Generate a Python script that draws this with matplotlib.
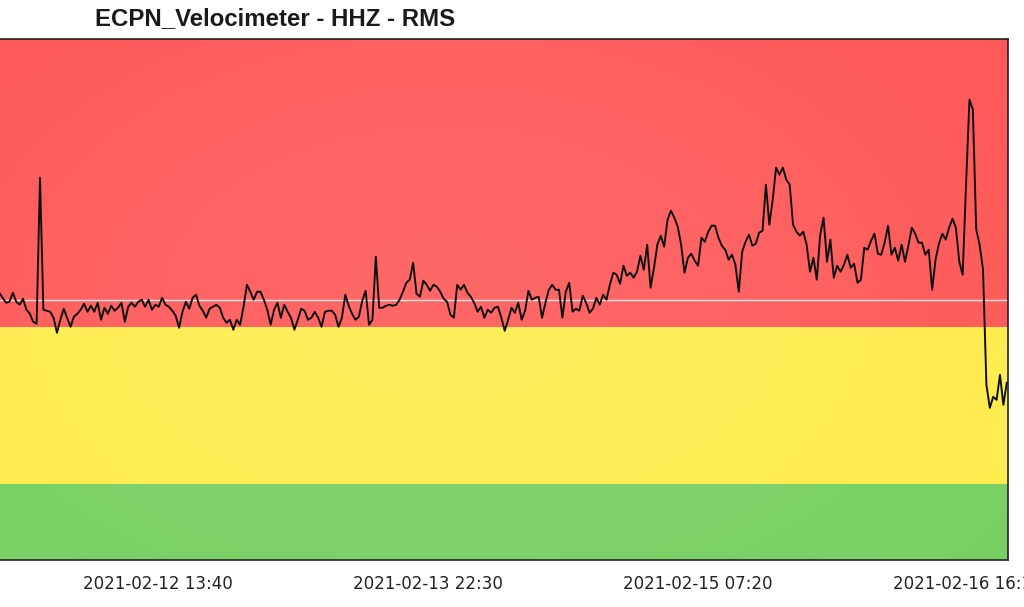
import matplotlib
matplotlib.use("Agg")
import matplotlib.pyplot as plt
import matplotlib.dates as mdates
import numpy as np
import pandas as pd

title = "ECPN_Velocimeter - HHZ - RMS"
start = "2021-02-11 18:22:05"
step = "1485s"
values = [
    267, 262, 257, 258, 267, 258, 255, 261, 250, 246, 238, 236, 382, 250, 249, 248, 242, 227, 240, 251,
    242, 233, 243, 246, 250, 256, 248, 254, 248, 257, 240, 252, 246, 254, 249, 252, 257, 238, 253, 257,
    253, 258, 260, 253, 260, 250, 255, 253, 262, 255, 253, 249, 244, 232, 248, 258, 251, 262, 265, 254,
    249, 242, 251, 253, 255, 252, 242, 237, 240, 230, 240, 235, 253, 275, 268, 260, 268, 268, 260, 250,
    235, 250, 257, 242, 255, 248, 242, 230, 240, 251, 249, 240, 242, 248, 242, 233, 248, 249, 249, 245,
    233, 242, 265, 254, 246, 240, 243, 259, 269, 235, 240, 303, 252, 252, 254, 255, 254, 255, 260, 268,
    277, 280, 297, 266, 263, 279, 275, 269, 275, 273, 268, 261, 258, 245, 242, 275, 270, 275, 267, 263,
    257, 248, 253, 242, 250, 247, 252, 253, 242, 229, 240, 252, 247, 257, 240, 249, 269, 260, 262, 263,
    242, 257, 270, 275, 270, 270, 242, 268, 277, 248, 251, 249, 264, 257, 247, 251, 262, 255, 265, 260,
    275, 287, 285, 276, 294, 284, 287, 282, 288, 304, 290, 315, 272, 292, 315, 324, 313, 340, 349, 342,
    333, 315, 287, 302, 306, 299, 294, 322, 318, 328, 334, 334, 322, 314, 310, 300, 305, 295, 268, 308,
    318, 325, 314, 316, 327, 329, 375, 335, 360, 392, 385, 392, 380, 375, 335, 328, 324, 328, 315, 288,
    302, 280, 325, 342, 298, 320, 282, 294, 288, 295, 305, 292, 296, 277, 280, 312, 310, 319, 326, 306,
    305, 317, 334, 305, 312, 299, 315, 298, 314, 332, 326, 317, 317, 305, 310, 270, 300, 316, 326, 320,
    332, 341, 332, 298, 285, 375, 460, 450, 330, 315, 290, 175, 152, 163, 160, 185, 155, 177,
]
green_band = (0, 76)
yellow_band = (76, 233)
red_band = (233, 521)
reference_level = 260
tick_times = ["2021-02-12 13:40", "2021-02-13 22:30", "2021-02-15 07:20", "2021-02-16 16:10"]
x_range = ("2021-02-11 17:14:18", "2021-02-16 20:58:12")
y_range = (0, 521)

times = pd.date_range(start, periods=len(values), freq=step)

fig = plt.figure(figsize=(10.24, 6.07), dpi=100)
ax = fig.add_axes([-10 / 1024, 1 - 560 / 607, 1017.5 / 1024, 521.5 / 607])

ax.axhspan(*green_band, color="#70cd58", zorder=0, lw=0)
ax.axhspan(*yellow_band, color="#ffeb42", zorder=0, lw=0)
ax.axhspan(*red_band, color="#ff4e4e", zorder=0, lw=0)

# soft radial highlight over the background bands
gx, gy = np.meshgrid(np.linspace(0, 1, 300), np.linspace(0, 1, 200))
w = np.exp(-(((gx - 0.45) / 0.75) ** 2 + ((gy - 0.5) / 0.9) ** 2))
over = np.ones((200, 300, 4))
over[..., 3] = 0.14 * w
ax.imshow(over, extent=[0, 1, 0, 1], transform=ax.transAxes, aspect="auto",
          zorder=1, interpolation="bilinear")

ax.axhline(reference_level, color="white", lw=1.0, alpha=0.85, zorder=2)
ax.plot(times, values, color="#111111", lw=1.4, zorder=3)

ax.set_xlim(pd.Timestamp(x_range[0]), pd.Timestamp(x_range[1]))
ax.set_ylim(*y_range)
ax.set_xticks([pd.Timestamp(t) for t in tick_times])
ax.xaxis.set_major_formatter(mdates.DateFormatter("%Y-%m-%d %H:%M"))
ax.set_yticks([])
ax.tick_params(axis="x", length=0, pad=11, labelsize=12, labelcolor="#222222")
for s in ax.spines.values():
    s.set_color("#222222")
    s.set_linewidth(1.2)

fig.text(95 / 1024, 1 - 25 / 607, title, fontsize=17.3, fontweight="bold",
         family="Liberation Sans", color="#1a1a1a", va="baseline", ha="left")

fig.savefig("out.png", dpi=100)
